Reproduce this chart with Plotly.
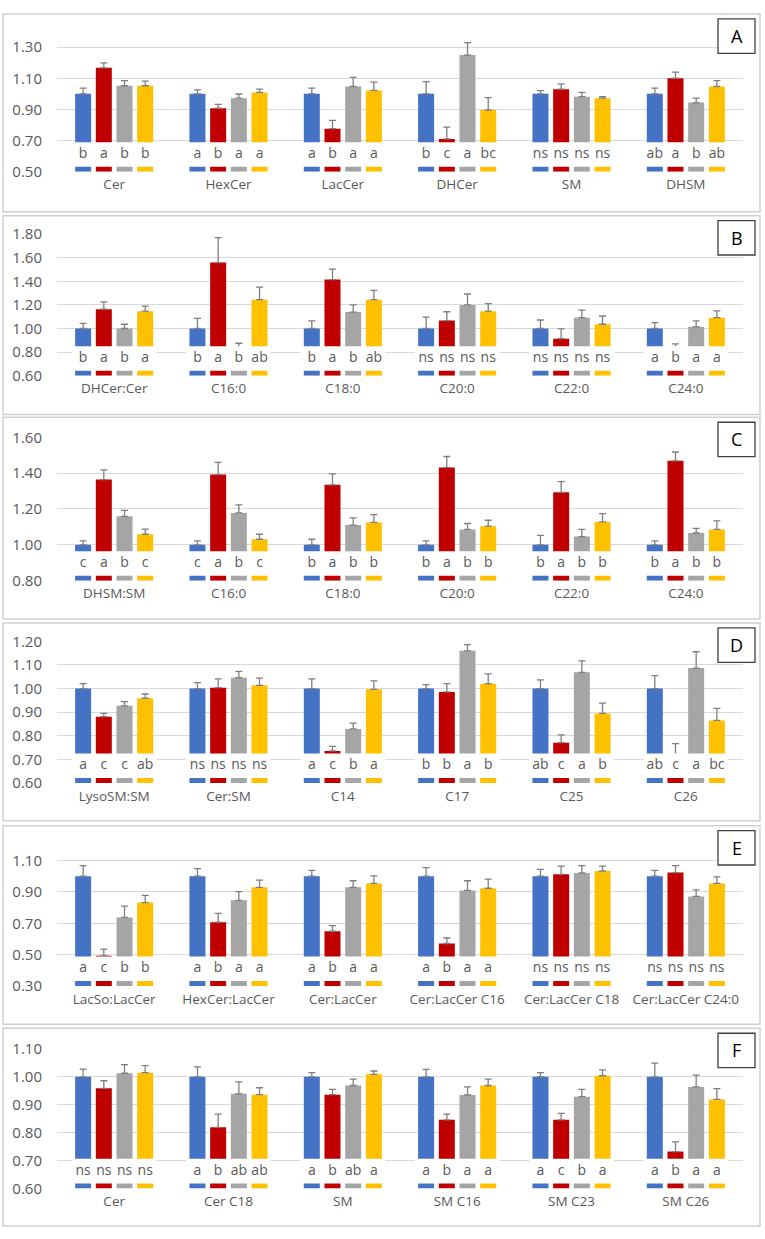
import numpy as np
import plotly.graph_objects as go

# ---------------- data ----------------
series_names = ["Group 1", "Group 2", "Group 3", "Group 4"]

A_categories = ["Cer", "HexCer", "LacCer", "DHCer", "SM", "DHSM"]
A_values = [
    [1.00, 1.00, 1.00, 1.00, 1.00, 1.00],
    [1.167, 0.908, 0.776, 0.710, 1.030, 1.100],
    [1.052, 0.972, 1.047, 1.249, 0.982, 0.944],
    [1.052, 1.009, 1.022, 0.896, 0.972, 1.047],
]
A_errors = [
    [0.037, 0.026, 0.037, 0.079, 0.020, 0.037],
    [0.032, 0.024, 0.054, 0.076, 0.034, 0.040],
    [0.033, 0.027, 0.059, 0.080, 0.027, 0.028],
    [0.029, 0.021, 0.053, 0.080, 0.010, 0.038],
]
A_letters = [
    ["b", "a", "a", "b", "ns", "ab"],
    ["a", "b", "b", "c", "ns", "a"],
    ["b", "a", "a", "a", "ns", "b"],
    ["b", "a", "a", "bc", "ns", "ab"],
]

B_categories = ["DHCer:Cer", "C16:0", "C18:0", "C20:0", "C22:0", "C24:0"]
B_values = [
    [1.00, 1.00, 1.00, 1.00, 1.00, 1.00],
    [1.164, 1.558, 1.414, 1.067, 0.914, 0.830],
    [1.000, 0.840, 1.139, 1.200, 1.092, 1.014],
    [1.147, 1.244, 1.244, 1.147, 1.036, 1.092],
]
B_errors = [
    [0.044, 0.086, 0.064, 0.097, 0.072, 0.050],
    [0.061, 0.212, 0.089, 0.075, 0.083, 0.040],
    [0.036, 0.035, 0.061, 0.092, 0.064, 0.050],
    [0.043, 0.106, 0.078, 0.064, 0.070, 0.058],
]
B_letters = [
    ["b", "b", "b", "ns", "ns", "a"],
    ["a", "a", "a", "ns", "ns", "b"],
    ["b", "b", "b", "ns", "ns", "a"],
    ["a", "ab", "ab", "ns", "ns", "a"],
]

C_categories = ["DHSM:SM", "C16:0", "C18:0", "C20:0", "C22:0", "C24:0"]
C_values = [
    [1.00, 1.00, 1.00, 1.00, 1.00, 1.00],
    [1.364, 1.392, 1.335, 1.432, 1.293, 1.469],
    [1.159, 1.178, 1.110, 1.086, 1.046, 1.066],
    [1.059, 1.031, 1.125, 1.104, 1.128, 1.086],
]
C_errors = [
    [0.022, 0.022, 0.031, 0.022, 0.053, 0.022],
    [0.054, 0.068, 0.061, 0.061, 0.060, 0.049],
    [0.033, 0.045, 0.040, 0.033, 0.040, 0.026],
    [0.029, 0.028, 0.043, 0.033, 0.046, 0.048],
]
C_letters = [
    ["c", "c", "b", "b", "b", "b"],
    ["a", "a", "a", "a", "a", "a"],
    ["b", "b", "b", "b", "b", "b"],
    ["c", "c", "b", "b", "b", "b"],
]

D_categories = ["LysoSM:SM", "Cer:SM", "C14", "C17", "C25", "C26"]
D_values = [
    [1.00, 1.00, 1.00, 1.00, 1.00, 1.00],
    [0.881, 1.004, 0.736, 0.986, 0.771, 0.700],
    [0.927, 1.046, 0.829, 1.160, 1.069, 1.087],
    [0.959, 1.014, 0.997, 1.021, 0.895, 0.865],
]
D_errors = [
    [0.021, 0.025, 0.041, 0.017, 0.037, 0.055],
    [0.014, 0.037, 0.019, 0.035, 0.033, 0.067],
    [0.018, 0.027, 0.025, 0.026, 0.048, 0.069],
    [0.018, 0.030, 0.036, 0.041, 0.043, 0.051],
]
D_letters = [
    ["a", "ns", "a", "b", "ab", "ab"],
    ["c", "ns", "c", "b", "c", "c"],
    ["c", "ns", "b", "a", "a", "a"],
    ["ab", "ns", "a", "b", "b", "bc"],
]

E_categories = ["LacSo:LacCer", "HexCer:LacCer", "Cer:LacCer", "Cer:LacCer C16",
                "Cer:LacCer C18", "Cer:LacCer C24:0"]
E_values = [
    [1.00, 1.00, 1.00, 1.00, 1.00, 1.00],
    [0.493, 0.707, 0.649, 0.571, 1.012, 1.023],
    [0.737, 0.846, 0.929, 0.909, 1.021, 0.871],
    [0.832, 0.929, 0.954, 0.923, 1.033, 0.954],
]
E_errors = [
    [0.068, 0.048, 0.037, 0.054, 0.044, 0.037],
    [0.042, 0.056, 0.036, 0.035, 0.052, 0.045],
    [0.072, 0.056, 0.042, 0.062, 0.047, 0.042],
    [0.046, 0.046, 0.048, 0.058, 0.031, 0.042],
]
E_letters = [
    ["a", "a", "a", "a", "ns", "ns"],
    ["c", "b", "b", "b", "ns", "ns"],
    ["b", "a", "a", "a", "ns", "ns"],
    ["b", "a", "a", "a", "ns", "ns"],
]

F_categories = ["Cer", "Cer C18", "SM", "SM C16", "SM C23", "SM C26"]
F_values = [
    [1.00, 1.00, 1.00, 1.00, 1.00, 1.00],
    [0.959, 0.819, 0.936, 0.846, 0.846, 0.732],
    [1.013, 0.939, 0.969, 0.935, 0.929, 0.964],
    [1.015, 0.936, 1.009, 0.969, 1.004, 0.919],
]
F_errors = [
    [0.028, 0.036, 0.015, 0.027, 0.015, 0.049],
    [0.027, 0.047, 0.019, 0.020, 0.023, 0.035],
    [0.031, 0.043, 0.023, 0.029, 0.026, 0.042],
    [0.025, 0.025, 0.012, 0.023, 0.021, 0.039],
]
F_letters = [
    ["ns", "a", "a", "a", "a", "a"],
    ["ns", "b", "b", "b", "c", "b"],
    ["ns", "ab", "ab", "a", "b", "a"],
    ["ns", "ab", "a", "a", "a", "a"],
]

panel_labels = ["A", "B", "C", "D", "E", "F"]
panel_data = [
    (A_categories, A_values, A_errors, A_letters),
    (B_categories, B_values, B_errors, B_letters),
    (C_categories, C_values, C_errors, C_letters),
    (D_categories, D_values, D_errors, D_letters),
    (E_categories, E_values, E_errors, E_letters),
    (F_categories, F_values, F_errors, F_letters),
]

# ---------------- layout / style ----------------
W, H = 765, 1239
colors = ["#4472C4", "#C00000", "#A5A5A5", "#FFC000"]
txt_color = "#595959"
FONT = "Open Sans"

# axis ranges (min, max, step)
y_axes = [(0.5, 1.4, 0.2), (0.6, 1.8, 0.2), (0.8, 1.6, 0.2),
          (0.6, 1.2, 0.1), (0.3, 1.2, 0.2), (0.6, 1.1, 0.1)]
# pixel geometry: panel box (top, bottom), plot area (top, bottom)
panel_box = [(3, 204), (208, 410), (413, 618), (622, 823), (828, 1030), (1034, 1235)]
plot_px = [(20.9, 163.3), (226.7, 370.7), (433.3, 579.0),
           (640.7, 784.7), (847.5, 991.0), (1055.0, 1196.7)]
x_left, x_right = 57, 743
strip_px, white_px = 5, 30
bar_w = 0.14
bar_step = 0.181
shifts = [(i - 1.5) * bar_step for i in range(4)]

fig = go.Figure()
layout = dict(
    width=W, height=H, margin=dict(l=0, r=0, t=0, b=0),
    paper_bgcolor="white", plot_bgcolor="white",
    showlegend=False, barmode="overlay",
    font=dict(family=FONT, color=txt_color),
)
shapes = []
annotations = []

for k, (cats, vals, errs, lets) in enumerate(panel_data):
    xa = "x" if k == 0 else f"x{k+1}"
    ya = "y" if k == 0 else f"y{k+1}"
    ymin, ymax, dt = y_axes[k]
    ptop, pbot = plot_px[k]
    ppu = (pbot - ptop) / (ymax - ymin)
    strip_top = ymin + strip_px / ppu
    base_lvl = ymin + white_px / ppu
    xpos = np.arange(len(cats))

    for i in range(4):
        v = np.array(vals[i])
        fig.add_trace(go.Bar(
            x=xpos + shifts[i], y=v - ymin, base=ymin, width=bar_w,
            marker=dict(color=colors[i], line=dict(width=0)),
            error_y=dict(type="data", array=errs[i], arrayminus=[0] * len(v),
                         symmetric=False, color="#7F7F7F", thickness=1.3, width=3.5),
            xaxis=xa, yaxis=ya, name=series_names[i], hoverinfo="skip",
        ))
    # white band hiding the middle part of the bars (letters area)
    fig.add_trace(go.Bar(
        x=xpos, y=[base_lvl - strip_top] * len(cats), base=strip_top, width=0.74,
        marker=dict(color="white", line=dict(width=0)),
        xaxis=xa, yaxis=ya, hoverinfo="skip",
    ))
    for i in range(4):
        fig.add_trace(go.Scatter(
            x=xpos + shifts[i], y=[(strip_top + base_lvl) / 2] * len(cats),
            mode="text", text=lets[i], textposition="middle center",
            textfont=dict(size=14, color=txt_color, family=FONT),
            xaxis=xa, yaxis=ya, hoverinfo="skip",
        ))

    tickvals = np.round(np.arange(ymin, ymax + 1e-9, dt), 2)
    layout["xaxis" if k == 0 else f"xaxis{k+1}"] = dict(
        domain=[x_left / W, x_right / W], range=[-0.5, len(cats) - 0.5],
        tickvals=list(xpos), ticktext=cats, showgrid=False, zeroline=False,
        showline=False, ticks="", ticklabelstandoff=3,
        tickfont=dict(size=13.5, color=txt_color, family=FONT), anchor=ya,
    )
    layout["yaxis" if k == 0 else f"yaxis{k+1}"] = dict(
        domain=[1 - pbot / H, 1 - ptop / H], range=[ymin, ymax],
        tickvals=list(tickvals), tickformat=".2f", showgrid=True,
        gridcolor="#D9D9D9", gridwidth=1, zeroline=False, showline=False,
        ticks="", ticklabelstandoff=14,
        tickfont=dict(size=15, color=txt_color, family=FONT), anchor=xa,
    )

    # panel border
    btop, bbot = panel_box[k]
    shapes.append(dict(type="rect", xref="paper", yref="paper",
                       x0=3 / W, x1=760 / W, y0=1 - bbot / H, y1=1 - btop / H,
                       line=dict(color="#D0D0D0", width=1.5), layer="below"))
    # panel label box
    shapes.append(dict(type="rect", xref="paper", yref="paper",
                       x0=718 / W, x1=755 / W, y0=1 - (btop + 40) / H, y1=1 - (btop + 5) / H,
                       line=dict(color="#404040", width=1.3), fillcolor="white", layer="above"))
    annotations.append(dict(x=736.5 / W, y=1 - (btop + 22.5) / H, xref="paper", yref="paper",
                            text=panel_labels[k], showarrow=False,
                            font=dict(size=18, color="black", family=FONT),
                            xanchor="center", yanchor="middle"))

layout["shapes"] = shapes
layout["annotations"] = annotations
fig.update_layout(**layout)
fig.write_html("out.html")
